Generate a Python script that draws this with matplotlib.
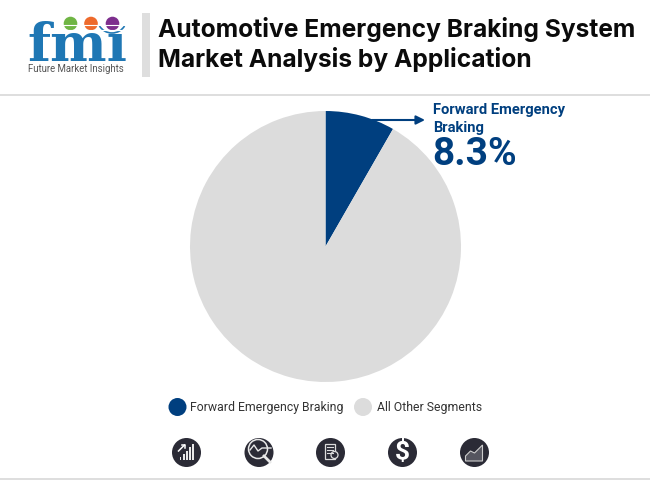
import matplotlib
matplotlib.use("Agg")
import matplotlib.pyplot as plt
from matplotlib.patches import Circle, Rectangle, Arc, Polygon

plt.rcParams['font.family'] = ['Roboto', 'DejaVu Sans']

# datos
segmentos = ["Forward Emergency Braking", "All Other Segments"]
valores = [8.3, 91.7]
colores = ["#003f7f", "#dcdcdc"]
titulo = "Automotive Emergency Braking System\nMarket Analysis by Application"
AZUL = "#003f7f"
OSCURO = "#2b2b36"
GRIS = "#dedede"

fig = plt.figure(figsize=(6.5, 4.8), dpi=100)

# capa de fondo en pixeles
bg = fig.add_axes([0, 0, 1, 1])
bg.set_xlim(0, 650)
bg.set_ylim(480, 0)
bg.axis("off")

# ------------------------------
# Cabecera
# ------------------------------
bg.add_patch(Rectangle((142, 13), 8, 64, color=GRIS, lw=0))
bg.add_patch(Rectangle((0, 94), 650, 2, color=GRIS, lw=0))
bg.add_patch(Rectangle((0, 478), 650, 2, color=GRIS, lw=0))
bg.text(158, 44.5, titulo, fontsize=17.7, fontweight="bold", color="#0b0b0b", family="Inter",
        va="center", ha="left", linespacing=1.3)

# logo
bg.text(77, 61, "fmı", fontsize=38.5, fontweight="bold", color="#1f77b4", family="DejaVu Serif",
        ha="center", va="baseline")
for y in range(25, 62, 5):
    bg.plot([24, 130], [y, y], color="white", lw=0.8)
bg.add_patch(Circle((70.5, 23.5), 6.8, color="#6fb544", lw=0))
bg.add_patch(Circle((91, 23.5), 6.8, color="#ee6a2c", lw=0))
bg.add_patch(Circle((112.5, 23.5), 6.8, color="#7d2e8d", lw=0))
bg.add_patch(Arc((112, 20), 28, 26, theta1=25, theta2=155, color="#1f77b4", lw=1.2))
bg.text(76, 68.5, "Future Market Insights", fontsize=6.9, color="#555555", ha="center", va="center")

# ------------------------------
# Grafico de torta
# ------------------------------
ax = fig.add_axes([190 / 650, 1 - 382 / 480, 271 / 650, 271 / 480])
ax.pie(valores, colors=colores, startangle=90, counterclock=False, radius=1.0,
       wedgeprops={"linewidth": 0})
ax.set_xlim(-1, 1)
ax.set_ylim(-1, 1)

# anotacion
top = fig.add_axes([0, 0, 1, 1])
top.set_xlim(0, 650)
top.set_ylim(480, 0)
top.axis("off")
top.annotate("", xy=(425, 120), xytext=(372, 120),
             arrowprops=dict(arrowstyle="-|>", color=AZUL, lw=1.5, mutation_scale=13,
                             shrinkA=0, shrinkB=0))
top.text(433, 119, "Forward Emergency\nBraking", fontsize=10.6, fontweight="bold", color=AZUL,
         ha="left", va="center", linespacing=1.3)
top.text(432.5, 154.5, f"{valores[0]}%", fontsize=28, fontweight="bold", color=AZUL,
         ha="left", va="center")

# leyenda
top.add_patch(Circle((177.5, 407), 9, color=colores[0], lw=0))
top.text(190, 407.5, segmentos[0], fontsize=8.8, color="#333333", ha="left", va="center")
top.add_patch(Circle((363, 407), 9, color=colores[1], lw=0))
top.text(377, 407.5, segmentos[1], fontsize=8.8, color="#333333", ha="left", va="center")

# iconos
iconos_x = [186.5, 259, 330.5, 402.5, 474.5]
for x in iconos_x:
    top.add_patch(Circle((x, 452.5), 14.5, color=OSCURO, lw=0))

# barras
x0 = iconos_x[0]
for i, h in enumerate([3, 6, 9, 13, 16]):
    top.add_patch(Rectangle((x0 - 7 + i * 3.2, 460 - h), 1.9, h, color="#e8e8e8", lw=0))
top.plot([x0 - 8, x0 - 2], [451, 445], color="white", lw=1.1)
top.plot([x0 - 5, x0 - 2, x0 - 2], [445, 445, 448], color="white", lw=1.1)

# lupa
x1 = iconos_x[1]
top.add_patch(Circle((x1 - 1, 449), 9.5, fill=False, ec="#e8e8e8", lw=1.1))
top.plot([x1 - 9, x1 - 5, x1 - 1, x1 + 3, x1 + 12], [450, 445, 451, 448, 448], color="#e8e8e8", lw=1)
top.plot([x1 + 5, x1 + 11], [456, 462], color="#e8e8e8", lw=2)

# documento
x2 = iconos_x[2]
top.add_patch(Rectangle((x2 - 6, 444), 10, 15, fill=False, ec="#dddddd", lw=0.9))
for y in [447, 450, 453]:
    top.plot([x2 - 4, x2 + 2], [y, y], color="#dddddd", lw=0.8)
top.add_patch(Circle((x2 + 4, 455), 3.5, fc=OSCURO, ec="#dddddd", lw=0.9))

# dolar
top.text(iconos_x[3], 452.5, "$", fontsize=19, fontweight="bold", color="white", ha="center", va="center")

# area
x4 = iconos_x[4]
top.add_patch(Polygon([(x4 - 9, 461), (x4 - 9, 456), (x4 - 4, 451), (x4, 453), (x4 + 8, 445), (x4 + 8, 461)],
                      closed=True, fc="#55555f", ec="#cccccc", lw=0.8))

fig.savefig("out.png", dpi=100)
